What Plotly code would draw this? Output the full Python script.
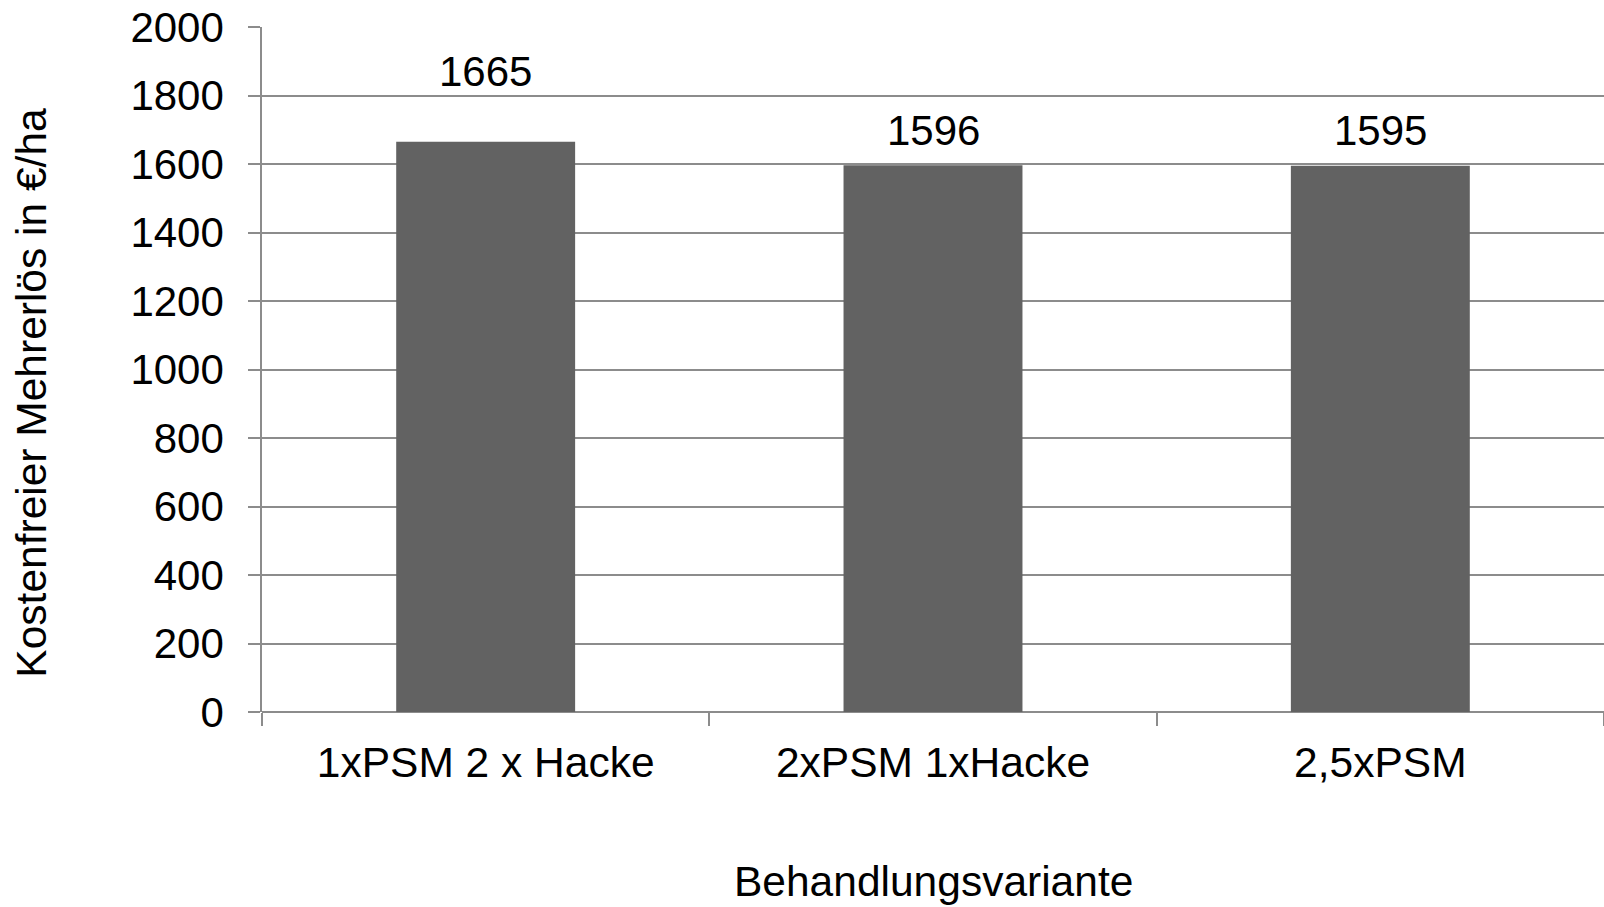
import plotly.graph_objects as go

# Kostenfreier Mehrerlös je Behandlungsvariante (€/ha)
categories = ["1xPSM 2 x Hacke", "2xPSM 1xHacke", "2,5xPSM"]
values = [1665, 1596, 1595]
y_ticks = [0, 200, 400, 600, 800, 1000, 1200, 1400, 1600, 1800, 2000]

# vertical offset (px) of each value label above its bar
label_shift = [70, 35, 35]

FONT = "Liberation Sans, Arial, sans-serif"
GRID = "#8c8c8c"
BAR = "#626262"

fig = go.Figure()
fig.add_trace(go.Bar(
    x=categories,
    y=values,
    marker=dict(color=BAR, line=dict(width=0)),
    width=0.4,
    showlegend=False,
    hoverinfo="skip",
))

for cat, val, shift in zip(categories, values, label_shift):
    fig.add_annotation(
        x=cat, y=val, text=str(val), showarrow=False,
        yanchor="middle", yshift=shift,
        font=dict(family=FONT, size=42, color="#000000"),
    )

# axis titles
fig.add_annotation(
    xref="paper", yref="paper", x=0.5, y=-0.247,
    text="Behandlungsvariante", showarrow=False,
    xanchor="center", yanchor="middle",
    font=dict(family=FONT, size=42.5, color="#000000"),
)
fig.add_annotation(
    xref="paper", yref="paper", x=-0.1715, y=0.466,
    text="Kostenfreier Mehrerlös in €/ha", showarrow=False, textangle=-90,
    xanchor="center", yanchor="middle",
    font=dict(family=FONT, size=42.5, color="#000000"),
)

fig.update_layout(
    width=1604, height=907,
    margin=dict(l=262, r=0, t=27, b=195, autoexpand=False),
    paper_bgcolor="white",
    plot_bgcolor="white",
    bargap=0.6,
    font=dict(family=FONT, size=42, color="#000000"),
)

fig.update_xaxes(
    type="category",
    tickson="boundaries",
    ticks="outside", ticklen=13, tickwidth=1.5, tickcolor=GRID,
    showline=False, showgrid=False, zeroline=False,
    tickfont=dict(family=FONT, size=42.5, color="#000000"),
    ticklabelstandoff=21,
)

fig.update_yaxes(
    range=[0, 2000],
    tickvals=y_ticks,
    ticktext=[str(t) for t in y_ticks],
    ticks="outside", ticklen=12, tickwidth=1.5, tickcolor=GRID,
    showgrid=True, gridcolor=GRID, gridwidth=1.5,
    showline=True, linecolor=GRID, linewidth=1.5,
    zeroline=True, zerolinecolor=GRID, zerolinewidth=1.5,
    tickfont=dict(family=FONT, size=42, color="#000000"),
    ticklabelstandoff=16,
)

fig.write_html("out.html")
